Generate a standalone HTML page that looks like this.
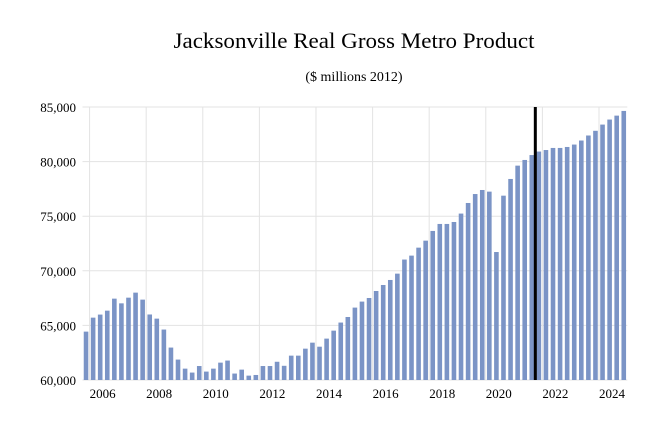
<!DOCTYPE html>
<html><head><meta charset="utf-8"><style>
html,body{margin:0;padding:0;background:#fff;}
svg{display:block;font-family:"Liberation Serif",serif;}
</style></head><body>
<svg id="chart" width="672" height="429" viewBox="0 0 672 429">
<text x="354" y="48" text-anchor="middle" font-size="22" textLength="361" lengthAdjust="spacingAndGlyphs">Jacksonville Real Gross Metro Product</text>
<text x="354" y="81" text-anchor="middle" font-size="14">($ millions 2012)</text>
<g id="grid"></g><g id="bars"></g><g id="axes"></g>
</svg>
<script>
const yTicks=[60000,65000,70000,75000,80000,85000];
const yTickLabels=["60,000","65,000","70,000","75,000","80,000","85,000"];
const xTickLabels=["2006","2008","2010","2012","2014","2016","2018","2020","2022","2024"];
const startYear=2005, startQuarter=4;
const values=[64430,65710,65990,66350,67450,67020,67540,68000,67360,66000,65620,64620,62970,61870,61040,60680,61280,60770,61040,61590,61780,60590,60950,60400,60460,61280,61280,61670,61300,62230,62230,62870,63420,63050,63790,64520,65260,65770,66630,
67180,67510,68150,68700,69160,69740,71030,71390,72120,72760,73650,74290,74290,74470,75240,76210,77030,77400,77250,71720,76880,78410,79630,80150,80600,80920,81060,81250,81250,81340,81560,81930,82390,82820,83390,83850,84210,84640];
const forecastStartIndex=64;
const NS="http://www.w3.org/2000/svg";
const x0=82.5,x1=627.3,yTop=107,yBot=380,yMin=60000,yMax=85000;
const band=(x1-x0)/values.length;
function xPos(i){return x0+i*band;}
function yPos(v){return yBot-(v-yMin)/(yMax-yMin)*(yBot-yTop);}
function mk(tag,attrs,parent){const e=document.createElementNS(NS,tag);for(const k in attrs)e.setAttribute(k,attrs[k]);parent.appendChild(e);return e;}
const grid=document.getElementById('grid'),barsG=document.getElementById('bars'),axes=document.getElementById('axes');
yTicks.forEach((t,k)=>{
 const l=mk('line',{x1:x0,x2:x1,y1:yPos(t),y2:yPos(t),stroke:'#e3e3e3','stroke-width':1},grid);
 
 
 const tx=mk('text',{x:76,y:yPos(t)+5,'text-anchor':'end','font-size':13},axes);
 tx.textContent=yTickLabels[k];
 
 
});
xTickLabels.forEach((lab)=>{
 const i=(parseInt(lab)-startYear)*4-(startQuarter-1);
 const gx=xPos(i);
 const l=mk('line',{x1:gx,x2:gx,y1:yTop,y2:yBot,stroke:'#e3e3e3','stroke-width':1},grid);
 
 
 const tx=mk('text',{x:gx+13,y:398,'text-anchor':'middle','font-size':13},axes);
 tx.textContent=lab;
 
 
});
values.forEach((v,i)=>{
 const bw=4.6;
 const r=mk('rect',{x:xPos(i)+(band-bw)/2,y:yPos(v),width:bw,height:yBot-yPos(v),fill:'#7b94c6'},barsG);
 
 
});
const fx=xPos(forecastStartIndex);
const fl=mk('line',{x1:fx,x2:fx,y1:yTop,y2:yBot,stroke:'#000','stroke-width':3},axes);


</script>
</body></html>
